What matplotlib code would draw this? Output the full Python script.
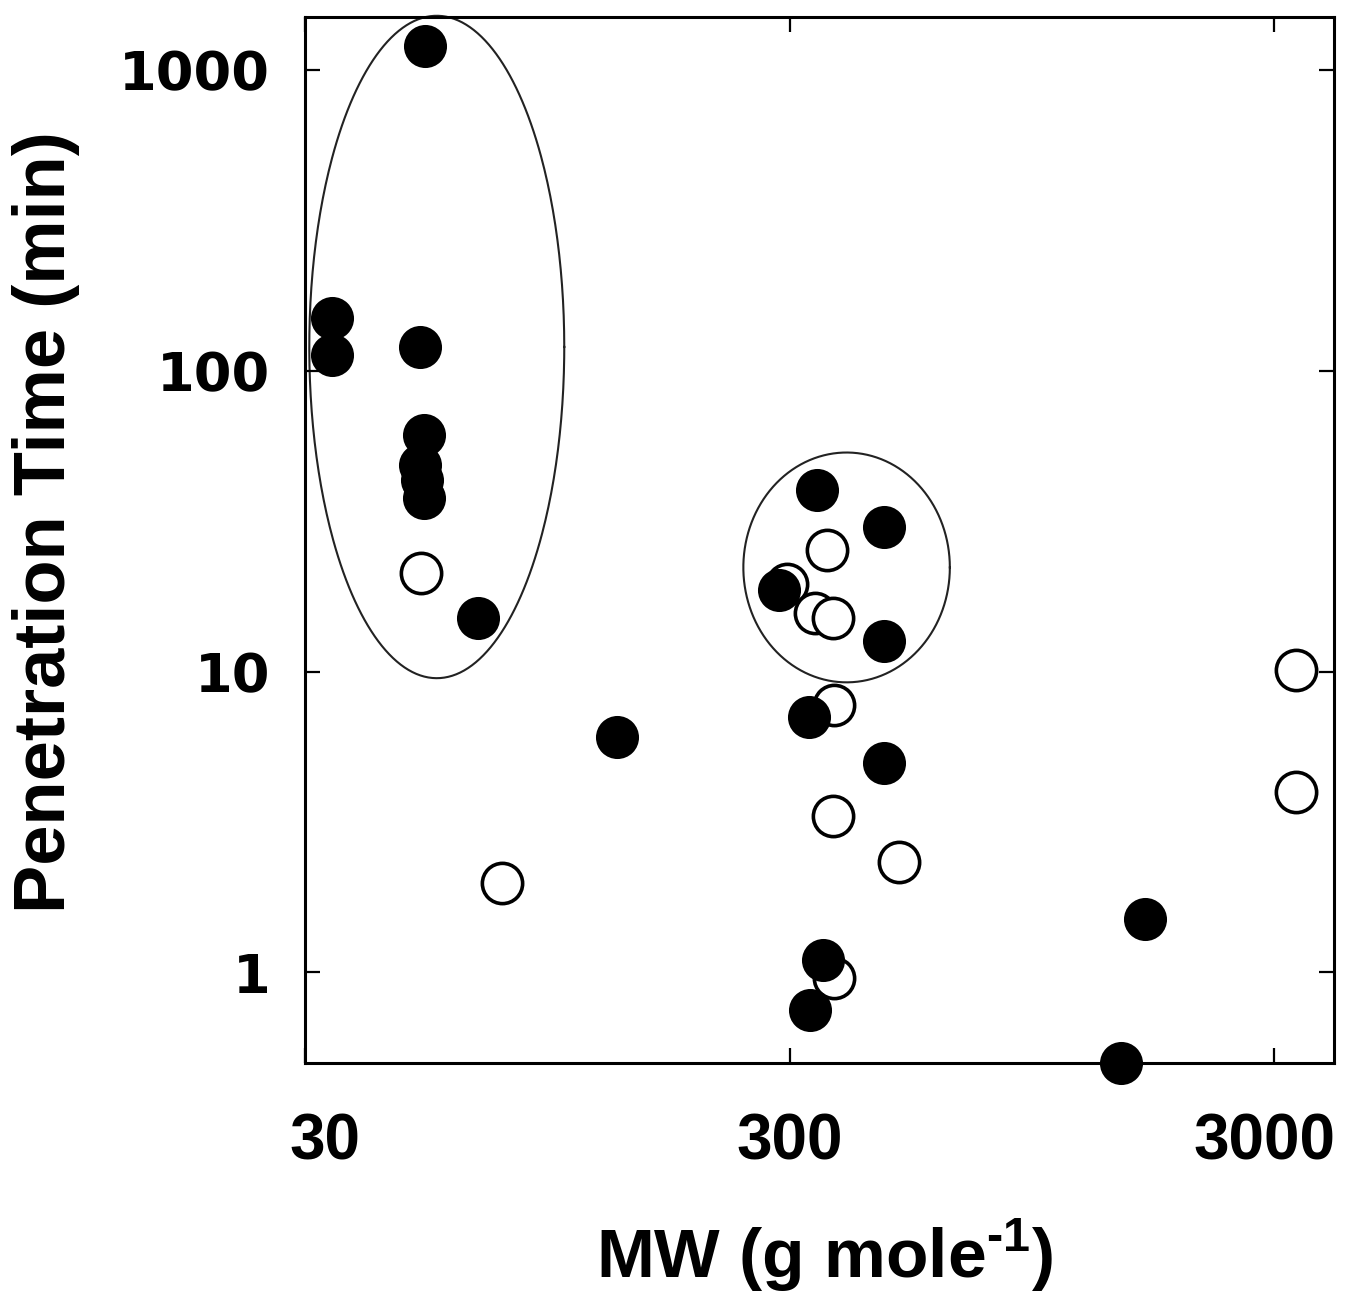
import numpy as np
import matplotlib
matplotlib.use("Agg")
import matplotlib.pyplot as plt
import matplotlib.transforms as mtransforms

plt.rcParams["font.family"] = ["Liberation Sans", "DejaVu Sans"]
plt.rcParams["mathtext.fontset"] = "custom"
plt.rcParams["mathtext.rm"] = "Liberation Sans:bold"
plt.rcParams["mathtext.bf"] = "Liberation Sans:bold"

# filled circles: MW (g/mol), penetration time (min)
filled_mw = [53, 34.1, 34.1, 51.8, 52.8, 51.8, 52.3, 52.8, 68.2, 132,
             341, 469, 285, 469, 328, 469, 351, 330, 1618, 1444]
filled_time = [1200, 150, 113, 120, 61.3, 48.7, 43.4, 37.8, 15.1, 6.08,
               40.2, 30.3, 18.7, 12.6, 7.09, 4.98, 1.10, 0.748, 1.50, 0.5]

# open circles
open_mw = [52, 76.4, 358, 296, 338, 368, 371, 368, 505, 371, 3330, 3330]
open_time = [21.3, 1.98, 25.4, 19.5, 15.7, 15.1, 7.77, 3.30, 2.32, 0.96, 10.1, 3.99]

# grouping ellipses: centre (MW, time) and half-widths in decades
ell_center_mw = [56.1, 393]
ell_center_time = [120, 22.2]
ell_half_x = [0.263, 0.213]
ell_half_y = [1.101, 0.382]

x_ticks = [30, 300, 3000]
y_ticks = [1, 10, 100, 1000]

fig = plt.figure(figsize=(13.47, 12.95), dpi=100)
ax = fig.add_axes([305 / 1347, 1 - 1063 / 1295, 1029 / 1347, 1046 / 1295])

ax.set_xscale("log")
ax.set_yscale("log")
ax.set_xlim(30, 3980)
ax.set_ylim(0.5, 1500)

t = np.linspace(0, 2 * np.pi, 400)
for cx, cy, a, b in zip(ell_center_mw, ell_center_time, ell_half_x, ell_half_y):
    ex = 10 ** (np.log10(cx) + a * np.cos(t))
    ey = 10 ** (np.log10(cy) + b * np.sin(t))
    ax.plot(ex, ey, color="#222222", lw=1.5, zorder=1, clip_on=False)

ax.scatter(open_mw, open_time, s=29 ** 2, facecolors="white", edgecolors="black",
           linewidths=2.6, zorder=2, clip_on=False)
ax.scatter(filled_mw, filled_time, s=31 ** 2, color="black", linewidths=0,
           zorder=3, clip_on=False)

ax.set_xticks(x_ticks)
ax.set_xticklabels([str(v) for v in x_ticks])
ax.set_yticks(y_ticks)
ax.set_yticklabels([str(v) for v in y_ticks])
ax.minorticks_off()
ax.tick_params(axis="both", which="major", direction="in", length=11, width=1.6,
               top=True, right=True, color="black")
ax.tick_params(axis="x", pad=36)
ax.tick_params(axis="y", pad=25)
for lab in ax.get_xticklabels():
    lab.set_fontsize(46)
    lab.set_fontweight("bold")
for lab in ax.get_yticklabels():
    lab.set_family("DejaVu Sans")
    lab.set_fontsize(39)
    lab.set_fontweight("bold")

# end labels sit slightly inward of their ticks in the original
xlabs = ax.get_xticklabels()
for lab, dx in ((xlabs[0], 0.2), (xlabs[-1], -0.1)):
    lab.set_transform(lab.get_transform() +
                      mtransforms.ScaledTranslation(dx, 0, fig.dpi_scale_trans))

for sp in ax.spines.values():
    sp.set_linewidth(2.2)

ax.set_xlabel(r"MW (g mole$^{\text{-}1}$)", fontsize=50, fontweight="bold")
ax.set_ylabel("Penetration Time (min)", fontsize=52, fontweight="bold")
ax.xaxis.set_label_coords(0.505, -0.147)
ax.yaxis.set_label_coords(-0.219, 0.517)

fig.savefig("out.png", dpi=100)
plt.close(fig)
